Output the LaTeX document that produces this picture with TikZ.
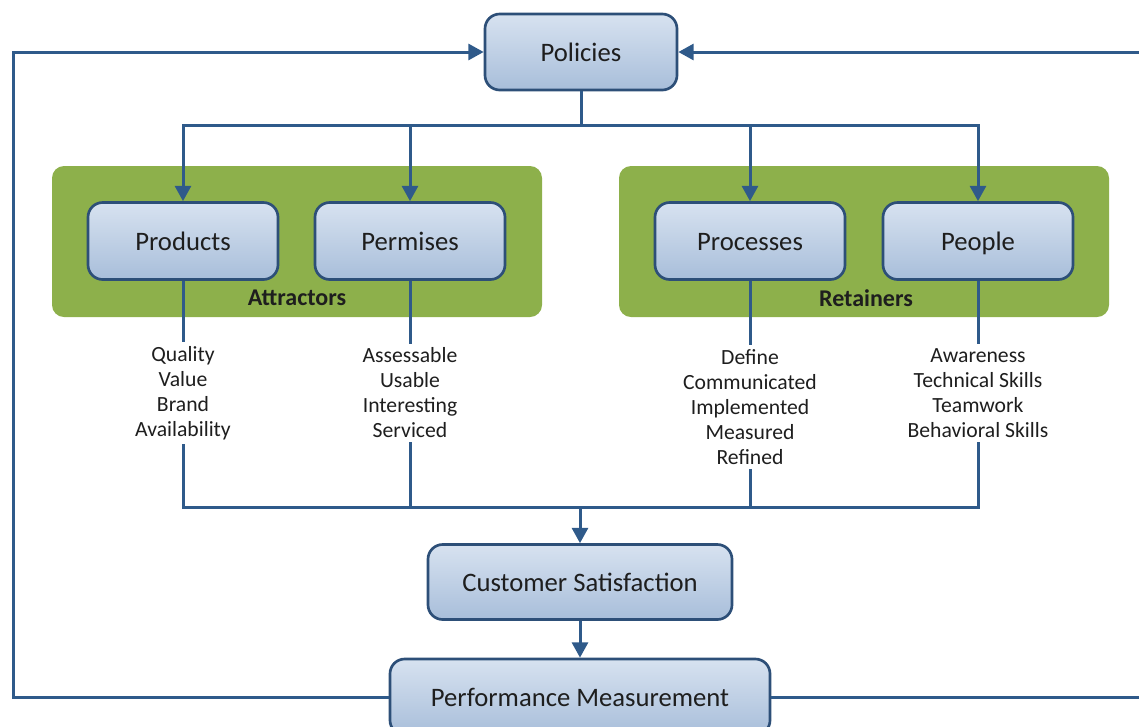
\documentclass[tikz,border=0pt]{standalone}
\usepackage{fontspec}
\setmainfont{Carlito}
\usetikzlibrary{arrows.meta,positioning}
\definecolor{boxline}{HTML}{2D4F78}
\definecolor{linkblue}{HTML}{2F5A8A}
\definecolor{boxtop}{HTML}{D7E2F0}
\definecolor{boxbot}{HTML}{A8BEDA}
\definecolor{panelgreen}{HTML}{8DB04B}
\definecolor{txt}{HTML}{1E1E1E}
\begin{document}
\begin{tikzpicture}[x=0.75pt,y=-0.75pt,
    blk/.style={draw=boxline,line width=2pt,rounded corners=11pt,top color=boxtop,bottom color=boxbot,text=txt,font=\fontsize{20}{24}\selectfont,inner sep=0pt,text height=16pt,text depth=2.5pt},
    panel/.style={fill=panelgreen,rounded corners=9pt,minimum width=367.5pt,minimum height=113.25pt,inner sep=0pt},
    lst/.style={align=center,text=txt,font=\fontsize{16.25}{18.75}\selectfont,inner sep=3pt},
    link/.style={draw=linkblue,line width=2.25pt},
    arr/.style={link,-{Triangle[width=12pt,length=11.5pt]}}]
                      \useasboundingbox (0,0) rectangle (1139,726);

                      \node[panel] (attr) at (297,241.5) {};
                      \node[panel] (ret) at (864,241.5) {};
                      \node[text=txt,font=\fontsize{18}{20}\selectfont\bfseries] at (297,298) {Attractors};
                      \node[text=txt,font=\fontsize{18}{20}\selectfont\bfseries] at (866,298) {Retainers};

                      \node[blk,minimum width=144pt,minimum height=57pt] (pol) at (581,52) {Policies};
                      \node[blk,minimum width=142.5pt,minimum height=57.75pt] (prod) at (183,241) {Products};
                      \node[blk,minimum width=142.5pt,minimum height=57.75pt] (prem) at (410,241) {Permises};
                      \node[blk,minimum width=142.5pt,minimum height=57.75pt] (proc) at (750,241) {Processes};
                      \node[blk,minimum width=142.5pt,minimum height=57.75pt] (peop) at (978,241) {People};
                      \node[blk,minimum width=228pt,minimum height=56.25pt] (cust) at (580,582) {Customer Satisfaction};
                      \node[blk,minimum width=285pt,minimum height=57pt] (perf) at (580,697) {Performance Measurement};

                      \node[lst] (prodl) at (183,393) {Quality\\Value\\Brand\\Availability};
                      \node[lst] (preml) at (410,393) {Assessable\\Usable\\Interesting\\Serviced};
                      \node[lst] (procl) at (750,407) {Define\\Communicated\\Implemented\\Measured\\Refined};
                      \node[lst] (peopl) at (978,393) {Awareness\\Technical Skills\\Teamwork\\Behavioral Skills};

                      \coordinate (tbus) at (581,125);
                      \coordinate (sbus) at (580,507);
                      \coordinate (lft) at (13,52);
                      \coordinate (rgt) at (1150,52);

                      \draw[link] (pol) -- (tbus);
                      \draw[arr] (tbus) -| (prod);
                      \draw[arr] (tbus) -| (prem);
                      \draw[arr] (tbus) -| (proc);
                      \draw[arr] (tbus) -| (peop);

                      \draw[link] (prod) -- (prodl);
                      \draw[link] (prem) -- (preml);
                      \draw[link] (proc) -- (procl);
                      \draw[link] (peop) -- (peopl);

                      \draw[link] (prodl) |- (sbus) -| (peopl);
                      \draw[link] (preml) -- (preml |- sbus);
                      \draw[link] (procl) -- (procl |- sbus);
                      \draw[arr] (sbus) -- (cust);
                      \draw[arr] (cust) -- (perf);

                      \draw[arr] (perf.west) -| (lft) -- (pol.west);
                      \draw[arr] (perf.east) -- (perf.east -| rgt) -- (rgt) -- (pol.east);
                    \end{tikzpicture}
\end{document}
